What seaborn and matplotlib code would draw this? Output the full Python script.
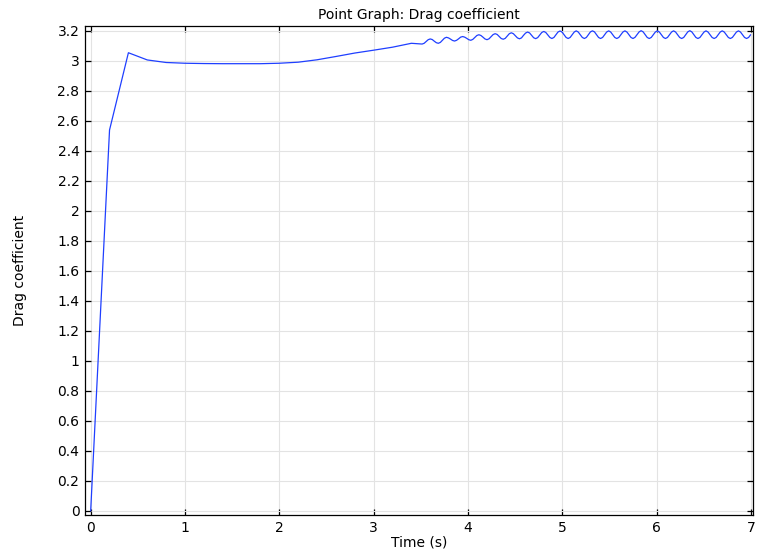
import numpy as np
import pandas as pd
import matplotlib
matplotlib.use('Agg')
import matplotlib.pyplot as plt
import seaborn as sns

# start-up part of the run, coarse output
coarse_t = [0.0, 0.2, 0.4, 0.6, 0.8, 1.0, 1.2, 1.4, 1.6, 1.8, 2.0, 2.2, 2.4,
            2.6, 2.8, 3.0, 3.2, 3.4]
coarse_cd = [0.0, 2.54, 3.055, 3.007, 2.99, 2.985, 2.983, 2.982, 2.982, 2.982,
             2.985, 2.992, 3.008, 3.03, 3.053, 3.072, 3.092, 3.118]

# periodic part, fine output (sampling step below)
fine_t0 = 3.514
fine_dt = 0.0215
fine_cd = [
    3.113, 3.118, 3.130, 3.142, 3.147, 3.143, 3.132, 3.122,
    3.118, 3.124, 3.138, 3.152, 3.158, 3.154, 3.146, 3.137,
    3.133, 3.138, 3.148, 3.159, 3.163, 3.159, 3.151, 3.142,
    3.138, 3.144, 3.157, 3.170, 3.175, 3.170, 3.159, 3.147,
    3.142, 3.148, 3.162, 3.176, 3.182, 3.177, 3.164, 3.150,
    3.145, 3.151, 3.167, 3.182, 3.188, 3.182, 3.168, 3.154,
    3.148, 3.154, 3.171, 3.186, 3.193, 3.187, 3.171, 3.155,
    3.149, 3.156, 3.173, 3.190, 3.197, 3.190, 3.174, 3.157,
    3.150, 3.157, 3.175, 3.193, 3.200, 3.193, 3.175, 3.157,
    3.150, 3.157, 3.175, 3.193, 3.201, 3.193, 3.175, 3.157,
    3.150, 3.157, 3.176, 3.194, 3.201, 3.194, 3.175, 3.157,
    3.150, 3.157, 3.175, 3.193, 3.201, 3.193, 3.175, 3.157,
    3.150, 3.157, 3.175, 3.193, 3.201, 3.193, 3.175, 3.157,
    3.150, 3.158, 3.176, 3.194, 3.202, 3.194, 3.176, 3.157,
    3.150, 3.157, 3.175, 3.193, 3.201, 3.193, 3.175, 3.157,
    3.150, 3.157, 3.175, 3.193, 3.201, 3.193, 3.175, 3.157,
    3.150, 3.157, 3.176, 3.194, 3.202, 3.194, 3.175, 3.157,
    3.150, 3.157, 3.175, 3.193, 3.201, 3.193, 3.175, 3.157,
    3.150, 3.157, 3.175, 3.193, 3.201, 3.193, 3.175, 3.157,
    3.150, 3.157, 3.175, 3.193, 3.201, 3.193, 3.175, 3.157,
    3.150, 3.157, 3.175,
]

x_ticks = [0, 1, 2, 3, 4, 5, 6, 7]
y_ticks = [0, 0.2, 0.4, 0.6, 0.8, 1, 1.2, 1.4, 1.6, 1.8, 2, 2.2, 2.4, 2.6,
           2.8, 3, 3.2]
y_labels = ['0', '0.2', '0.4', '0.6', '0.8', '1', '1.2', '1.4', '1.6', '1.8',
            '2', '2.2', '2.4', '2.6', '2.8', '3', '3.2']

fine_t = np.round(fine_t0 + fine_dt * np.arange(len(fine_cd)), 4)
df = pd.DataFrame({
    'time': list(coarse_t) + list(fine_t),
    'cd': coarse_cd + fine_cd,
})

sns.set_theme(style='white')
plt.rcParams['font.family'] = ['DejaVu Sans']
plt.rcParams['text.color'] = 'black'
plt.rcParams['axes.labelcolor'] = 'black'

fig = plt.figure(figsize=(7.57, 5.56), dpi=100)
ax = fig.add_axes([0.1123, 0.0737, 0.8824, 0.880])

sns.lineplot(data=df, x='time', y='cd', ax=ax, sort=False, estimator=None,
             color='#1f3fff', linewidth=0.9)

ax.set_xlim(-0.06, 7.022)
ax.set_ylim(-0.027, 3.235)
ax.set_xticks(x_ticks)
ax.set_yticks(y_ticks)
ax.set_yticklabels(y_labels)
ax.grid(True, color='#e3e3e3', linewidth=0.8)
ax.set_axisbelow(True)

for s in ax.spines.values():
    s.set_visible(True)
    s.set_color('black')
    s.set_linewidth(0.9)

ax.tick_params(direction='in', length=4.5, width=0.9, colors='black',
               labelsize=10, top=True, right=True, bottom=True, left=True,
               labeltop=False, labelright=False, pad=4)

ax.set_title('Point Graph: Drag coefficient', fontsize=10, pad=5, color='black')
ax.set_xlabel('Time (s)', fontsize=10, labelpad=1)
ax.set_ylabel('Drag coefficient', fontsize=10, labelpad=22)

fig.savefig('out.png', dpi=100)
plt.close(fig)
